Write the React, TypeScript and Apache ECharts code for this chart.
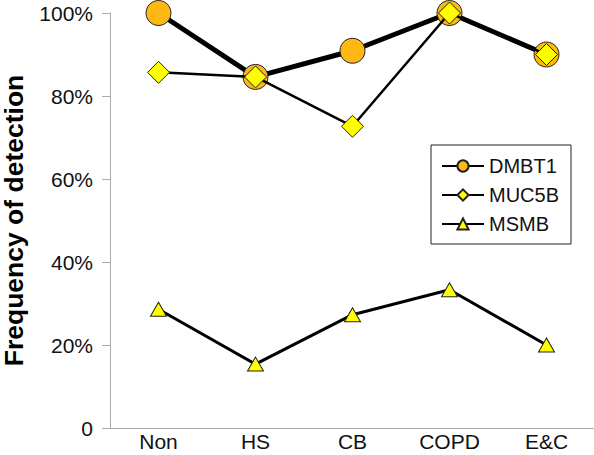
import React, { useEffect, useRef } from "react";
import * as echarts from "echarts";

const categories = ["Non", "HS", "CB", "COPD", "E&C"];
const dmbt1 = [100, 84.6, 90.9, 100, 90];
const muc5b = [85.7, 84.6, 72.7, 100, 90];
const msmb = [28.6, 15.4, 27.3, 33.3, 20];
const yTicks = [0, 20, 40, 60, 80, 100];

export default function App() {
  const ref = useRef<HTMLDivElement>(null);
  useEffect(() => {
    const chart = echarts.init(ref.current!, null, { renderer: "svg" });
    const font = "Arial, 'Liberation Sans', sans-serif";
    chart.setOption({
      animation: false,
      grid: { left: 110, right: -1, top: 13, bottom: 27, outerBoundsMode: "none", containLabel: false },
      legend: {
        left: 431,
        top: 145,
        orient: "vertical",
        itemWidth: 42,
        itemHeight: 14,
        itemGap: 9,
        padding: [11, 12, 10, 10],
        borderColor: "#222",
        borderWidth: 1,
        textStyle: { fontSize: 20, color: "#111", fontFamily: font },
        data: ["DMBT1", "MUC5B", "MSMB"],
      },
      xAxis: {
        type: "category",
        data: categories,
        boundaryGap: true,
        axisLine: { lineStyle: { color: "#aaa", width: 1 } },
        axisTick: { show: false },
        axisLabel: { fontSize: 21, color: "#111", fontFamily: font, margin: 3 },
      },
      yAxis: {
        type: "value",
        min: 0,
        max: 100,
        interval: 20,
        name: "Frequency of detection",
        nameLocation: "middle",
        nameGap: 84,
        nameTextStyle: { fontSize: 26.5, lineHeight: 24, fontWeight: "bold", color: "#000", fontFamily: font },
        axisLine: { show: true, lineStyle: { color: "#aaa", width: 1 } },
        axisTick: { show: true, length: 8, lineStyle: { color: "#aaa" } },
        splitLine: { show: false },
        axisLabel: {
          fontSize: 21,
          color: "#111",
          fontFamily: font,
          margin: 17,
          formatter: (v: number) => (yTicks.includes(v) ? (v === 0 ? "0" : v + "%") : ""),
        },
      },
      series: [
        {
          name: "DMBT1",
          type: "line",
          data: dmbt1,
          symbol: "circle",
          symbolSize: 25,
          lineStyle: { color: "#000", width: 5 },
          itemStyle: { color: "#FDB813", borderColor: "#222", borderWidth: 1 },
          z: 2,
        },
        {
          name: "MUC5B",
          type: "line",
          data: muc5b,
          symbol: "diamond",
          symbolSize: 22,
          lineStyle: { color: "#000", width: 2.5 },
          itemStyle: { color: "#FFFF00", borderColor: "#222", borderWidth: 1 },
          z: 3,
        },
        {
          name: "MSMB",
          type: "line",
          data: msmb,
          symbol: "triangle",
          symbolSize: [16, 14],
          lineStyle: { color: "#000", width: 3 },
          itemStyle: { color: "#FFFF00", borderColor: "#222", borderWidth: 1 },
          z: 4,
        },
      ],
    });
    return () => chart.dispose();
  }, []);
  return <div ref={ref} style={{ width: 594, height: 455, position: "absolute", left: 0, top: 0 }} />;
}
